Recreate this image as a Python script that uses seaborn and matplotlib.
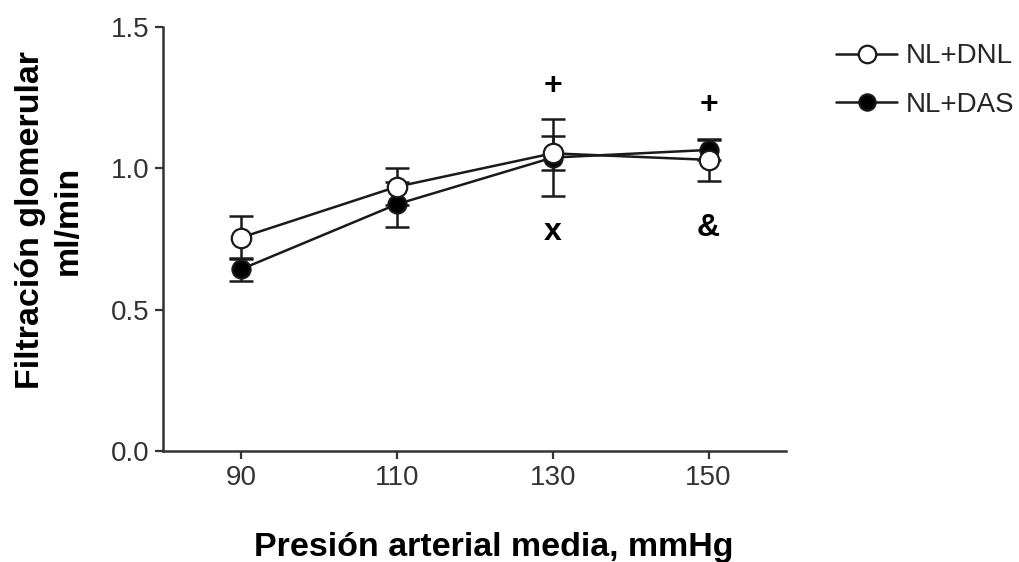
import matplotlib
matplotlib.use("Agg")
import matplotlib.pyplot as plt
import seaborn as sns
import pandas as pd

presion = [90, 110, 130, 150]
dnl_mean = [0.755, 0.935, 1.053, 1.030]
dnl_err = [0.075, 0.065, 0.060, 0.075]
das_mean = [0.643, 0.873, 1.038, 1.065]
das_err = [0.040, 0.080, 0.136, 0.035]
series_labels = ["NL+DNL", "NL+DAS"]
annot_x = [130, 130, 150, 150]
annot_y = [1.29, 0.775, 1.225, 0.79]
annot_txt = ["+", "x", "+", "&"]

sns.set_theme(style="ticks")
plt.rcParams['font.family'] = ['Liberation Sans', 'DejaVu Sans']

df = pd.DataFrame({
    "x": presion * 2,
    "y": das_mean + dnl_mean,
    "grupo": [series_labels[1]] * 4 + [series_labels[0]] * 4,
})

fig = plt.figure(figsize=(10.2, 5.62), dpi=100)
ax = fig.add_axes([0.16, 0.1975, 0.611, 0.7545])

col = "#1a1a1a"
lw = 1.8
ax.errorbar(presion, das_mean, yerr=das_err, fmt="none", ecolor=col,
            elinewidth=lw, capsize=8.5, capthick=lw, zorder=2)
ax.errorbar(presion, dnl_mean, yerr=dnl_err, fmt="none", ecolor=col,
            elinewidth=lw, capsize=8.5, capthick=lw, zorder=2)

sns.lineplot(data=df[df.grupo == series_labels[1]], x="x", y="y", ax=ax,
             color=col, linewidth=lw, marker="o", markersize=13,
             markerfacecolor="black", markeredgecolor=col, markeredgewidth=1.6,
             label=series_labels[1], zorder=3)
sns.lineplot(data=df[df.grupo == series_labels[0]], x="x", y="y", ax=ax,
             color=col, linewidth=lw, marker="o", markersize=14,
             markerfacecolor="white", markeredgecolor=col, markeredgewidth=1.6,
             label=series_labels[0], zorder=4)

for xx, yy, t in zip(annot_x, annot_y, annot_txt):
    ax.text(xx, yy, t, ha="center", va="center", fontsize=23,
            fontweight="bold", color="black")

ax.set_xlim(80, 160)
ax.set_ylim(0, 1.5)
ax.set_xticks(presion)
ax.set_yticks([0.0, 0.5, 1.0, 1.5])
ax.set_yticklabels(["0.0", "0.5", "1.0", "1.5"])
ax.tick_params(axis="both", labelsize=20, colors="#333333", length=6, width=1.6,
               direction="out", labelcolor="#333333", pad=4)
for s in ["top", "right"]:
    ax.spines[s].set_visible(False)
for s in ["left", "bottom"]:
    ax.spines[s].set_linewidth(1.8)
    ax.spines[s].set_color("#333333")

ax.set_xlabel("Presión arterial media, mmHg", fontsize=24.5, fontweight="bold",
              color="black")
ax.xaxis.set_label_coords(0.531, -0.19)
ax.set_ylabel("Filtración glomerular\nml/min", fontsize=24.5, fontweight="bold",
              linespacing=1.25, color="black")
ax.yaxis.set_label_coords(-0.128, 0.545)

handles, labels = ax.get_legend_handles_labels()
order = [labels.index(series_labels[0]), labels.index(series_labels[1])]
ax.legend([handles[i] for i in order], [labels[i] for i in order],
          loc="upper left", bbox_to_anchor=(1.04, 1.02), frameon=False,
          fontsize=20, handlelength=2.2, labelspacing=0.8, handletextpad=0.3,
          markerscale=0.9)

fig.savefig("out.png", dpi=100)
